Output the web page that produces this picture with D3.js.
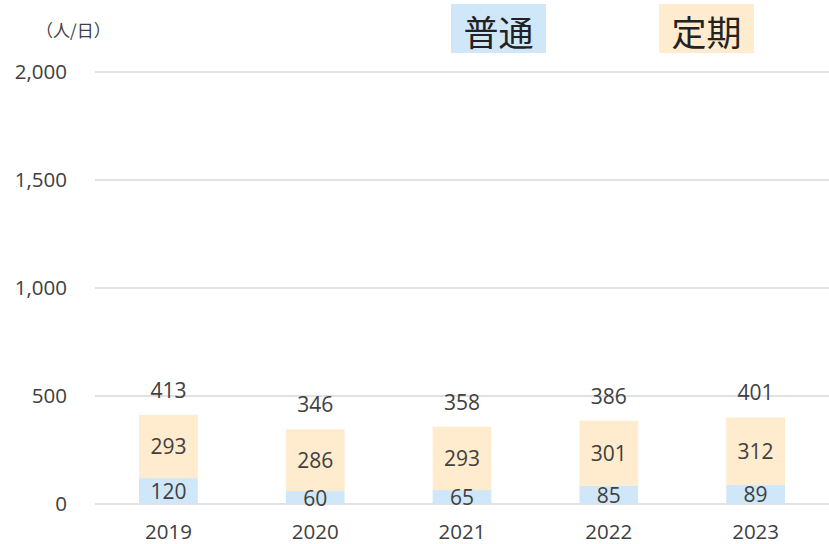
<!DOCTYPE html>
<html>
<head>
<meta charset="utf-8">
<script src="https://cdn.jsdelivr.net/npm/d3@7"></script>
<style>
  body { margin: 0; background: #fff; }
  text { font-family: "Open Sans", "Noto Sans CJK JP", sans-serif; }
</style>
</head>
<body>
<div class="main"></div>
<script>
var years = ["2019", "2020", "2021", "2022", "2023"];
var futsu = [120, 60, 65, 85, 89];
var teiki = [293, 286, 293, 301, 312];
var totals = [413, 346, 358, 386, 401];
var yTicks = [0, 500, 1000, 1500, 2000];

var width = 829;
var height = 544;
var blue = "#d0e7f9";
var orange = "#ffebcd";
var textColor = "#404040";

var svg = d3.select(".main")
    .append("svg")
        .attr("width", width)
        .attr("height", height);

var xScale = d3.scaleBand()
    .domain(years)
    .range([95, 829])
    .paddingInner(0.6)
    .paddingOuter(0.3);

var yScale = d3.scaleLinear()
    .domain([0, 2000])
    .range([504, 72]);

// grid lines
svg.append("g").selectAll("line")
    .data(yTicks)
    .enter()
    .append("line")
    .attr("x1", 95)
    .attr("x2", 829)
    .attr("y1", d => yScale(d))
    .attr("y2", d => yScale(d))
    .style("stroke", "#d9d9d9")
    .style("stroke-width", 1.5);

// y axis labels
var yAxis = d3.axisLeft(yScale)
    .tickValues(yTicks)
    .tickFormat(d3.format(","))
    .tickSize(0)
    .tickPadding(0);

var yAxisGroup = svg.append("g")
    .attr("transform", "translate(67, 0)")
    .call(yAxis);
yAxisGroup.select(".domain").remove();
yAxisGroup.selectAll("text")
    .style("font-size", "20.5px")
    .style("fill", textColor)
    .style("font-family", "'Open Sans', sans-serif");

// x axis labels
var xAxis = d3.axisBottom(xScale).tickSize(0).tickPadding(0);
var xAxisGroup = svg.append("g")
    .attr("transform", "translate(0, 524)")
    .call(xAxis);
xAxisGroup.select(".domain").remove();
xAxisGroup.selectAll("text")
    .style("font-size", "20.5px")
    .style("fill", textColor)
    .style("font-family", "'Open Sans', sans-serif");

// bars
svg.append("g").selectAll("rect.futsu")
    .data(futsu)
    .enter()
    .append("rect")
    .attr("x", (d, i) => xScale(years[i]))
    .attr("y", d => yScale(d))
    .attr("width", xScale.bandwidth())
    .attr("height", d => yScale(0) - yScale(d))
    .style("fill", blue);

svg.append("g").selectAll("rect.teiki")
    .data(teiki)
    .enter()
    .append("rect")
    .attr("x", (d, i) => xScale(years[i]))
    .attr("y", (d, i) => yScale(futsu[i] + d))
    .attr("width", xScale.bandwidth())
    .attr("height", (d, i) => yScale(futsu[i]) - yScale(futsu[i] + d))
    .style("fill", orange);

// value labels
function label(data, yFn) {
    svg.append("g").selectAll("text")
        .data(data)
        .enter()
        .append("text")
        .attr("x", (d, i) => xScale(years[i]) + xScale.bandwidth() / 2)
        .attr("y", yFn)
        .attr("text-anchor", "middle")
        .attr("dominant-baseline", "central")
        .style("font-size", "21px")
        .style("fill", textColor)
        .text(d => d);
}
label(futsu, (d, i) => yScale(d / 2));
label(teiki, (d, i) => yScale(futsu[i] + d / 2));
label(totals, (d, i) => yScale(totals[i]) - 25);

// unit label
svg.append("text")
    .attr("x", 36)
    .attr("y", 29)
    .attr("dominant-baseline", "central")
    .style("font-size", "17px")
    .style("fill", textColor)
    .style("font-family", "'Noto Sans CJK JP', sans-serif")
    .text("（人/日）");

// legend
var legend = [["普通", blue, 451], ["定期", orange, 659]];
legend.forEach(function (l) {
    svg.append("rect")
        .attr("x", l[2])
        .attr("y", 4)
        .attr("width", 95)
        .attr("height", 49)
        .style("fill", l[1]);
    svg.append("text")
        .attr("x", l[2] + 47.5)
        .attr("y", 30)
        .attr("text-anchor", "middle")
        .attr("dominant-baseline", "central")
        .style("font-size", "35px")
        .style("fill", "#222")
        .style("font-family", "'Noto Sans CJK JP', sans-serif")
        .text(l[0]);
});
</script>
</body>
</html>
